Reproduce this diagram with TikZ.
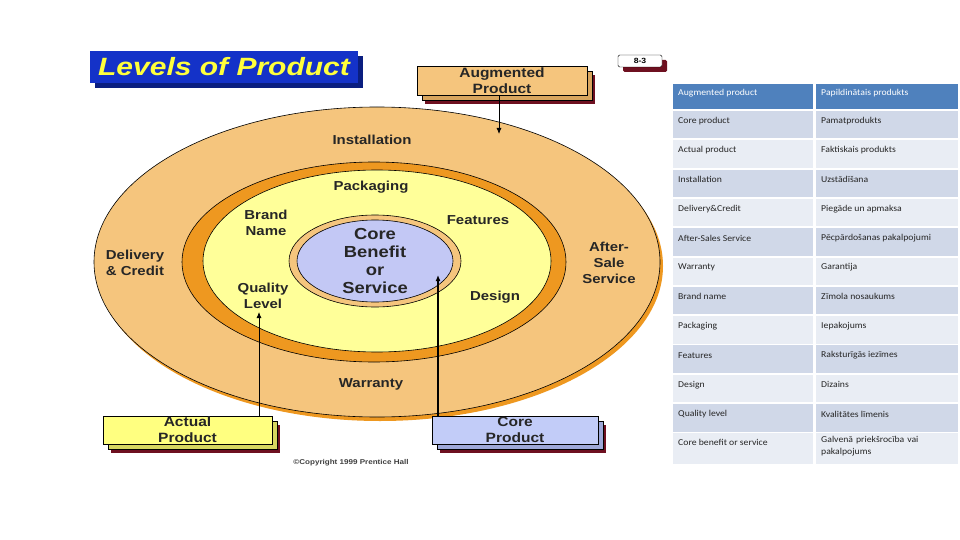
\documentclass[tikz,border=0pt]{standalone}
\usepackage{fontspec}
\usepackage{tikz}
\usetikzlibrary{shadows,arrows.meta}
\setmainfont{Liberation Sans}
\newfontfamily\labfont[FakeStretch=1.15]{Liberation Sans}
\newfontfamily\ttlfont[FakeStretch=1.2]{Liberation Sans}
\newfontfamily\tabfont[FakeStretch=1.08]{Carlito}

\definecolor{peach}{HTML}{F5C57D}
\definecolor{ringorange}{HTML}{EE9820}
\definecolor{paleyellow}{HTML}{FFFF99}
\definecolor{coreblue}{HTML}{C3C8F5}
\definecolor{actualfill}{HTML}{FFFF80}
\definecolor{actualbevel}{HTML}{D6D660}
\definecolor{corefill}{HTML}{C2CCF8}
\definecolor{corebevel}{HTML}{9EA8D8}
\definecolor{augbevel}{HTML}{D8A55E}
\definecolor{maroon}{HTML}{6E1020}
\definecolor{titleblue}{HTML}{1432C8}
\definecolor{titleshade}{HTML}{0A1E80}
\definecolor{titletext}{HTML}{FFFF3C}
\definecolor{headblue}{HTML}{4F81BD}
\definecolor{rowdark}{HTML}{D0D8E8}
\definecolor{rowlight}{HTML}{E9EDF4}

\tikzset{
  lab/.style={font=\labfont\bfseries\fontsize{13}{16}\selectfont, text=black!85, align=center, inner sep=0},
  pbox/.style={draw=black, line width=0.6pt, inner sep=0, align=center,
    font=\labfont\bfseries\fontsize{13.5}{16}\selectfont, text=black!85,
    drop shadow={shadow xshift=8pt, shadow yshift=-9pt, fill=maroon, opacity=1},
    copy shadow={shadow xshift=5pt, shadow yshift=-5pt, fill=#1, draw=black}},
  arr/.style={-{Latex[length=6pt,width=5pt]}, line width=0.8pt},
  cell/.style={anchor=north west, minimum height=27.5, inner sep=0, outer sep=0},
  celltext/.style={anchor=west, inner sep=0, font=\tabfont\fontsize{9}{12}\selectfont, text=black!85},
}

\begin{document}
\begin{tikzpicture}[x=1pt, y=-1pt]
\useasboundingbox (0,0) rectangle (960,540);
\fill[white] (0,0) rectangle (960,540);

% title and section tag
\node[fill=titleblue, minimum width=268, minimum height=32, inner sep=0,
  font=\ttlfont\bfseries\itshape\fontsize{25}{28}\selectfont, text=titletext,
  drop shadow={shadow xshift=5pt, shadow yshift=-5pt, fill=titleshade, opacity=1}] (title) at (224,67) {Levels of Product};
\node[draw=black, fill=white, rounded corners=1.5pt, minimum width=44, minimum height=12, inner sep=0,
  font=\labfont\bfseries\fontsize{7.5}{8}\selectfont,
  drop shadow={shadow xshift=5pt, shadow yshift=-5pt, fill=maroon, opacity=1}] (sec) at (640,61) {8-3};

% levels
\fill[ringorange] (380,266) ellipse [x radius=283, y radius=155];
\draw[fill=peach, line width=0.6pt] (377,262) ellipse [x radius=283, y radius=155];
\draw[fill=ringorange, line width=0.6pt] (374,262) ellipse [x radius=192, y radius=100];
\draw[fill=paleyellow, line width=0.6pt] (377,261) ellipse [x radius=174, y radius=91];
\draw[fill=peach, line width=0.6pt] (375,261) ellipse [x radius=86, y radius=46];
\draw[fill=coreblue, line width=0.6pt] (375,261) ellipse [x radius=78, y radius=41];

\node[lab] (installation) at (372,140) {Installation};
\node[lab] (packaging) at (371,187) {Packaging};
\node[lab] (brand) at (266,223) {Brand\\Name};
\node[lab] (features) at (478,220) {Features};
\node[lab, font=\labfont\bfseries\fontsize{16}{18}\selectfont] (coretext) at (375,261) {Core\\Benefit\\or\\Service};
\node[lab] (delivery) at (135,263) {Delivery\\\& Credit};
\node[lab] (quality) at (263,296) {Quality\\Level};
\node[lab] (design) at (495,297) {Design};
\node[lab] (aftersale) at (609,263) {After-\\Sale\\Service};
\node[lab] (warranty) at (371,384) {Warranty};

% product boxes
\node[pbox=augbevel, fill=peach, minimum width=170, minimum height=29] (augmented) at (502,80.5) {Augmented\\Product};
\node[pbox=actualbevel, fill=actualfill, minimum width=169, minimum height=28] (actual) at (187.5,430) {Actual\\Product};
\node[pbox=corebevel, fill=corefill, minimum width=166, minimum height=28] (core) at (515,430) {Core\\Product};

\coordinate (augtip) at (499,134);
\coordinate (qualtip) at (259,312);
\coordinate (coretip) at (438,275);
\draw[arr] (augmented.south -| augtip) -- (augtip);
\draw[arr] (actual.north -| qualtip) -- (qualtip);
\draw[arr, line width=1.5pt] (core.north -| coretip) -- (coretip);

\node[font=\labfont\bfseries\fontsize{7}{8}\selectfont, text=black!75] (copy) at (351,463) {\textcopyright Copyright 1999 Prentice Hall};

% glossary table
\node[cell, fill=headblue, minimum width=140, minimum height=25] (Lh) at (673,84) {};
\node[cell, fill=headblue, minimum width=142, minimum height=25] (Rh) at (816,84) {};
\node[celltext, text=white] at ([xshift=5pt, yshift=-9pt]Lh.north west) {Augmented product};
\node[celltext, text=white] at ([xshift=5pt, yshift=-9pt]Rh.north west) {Papildinātais produkts};
\foreach \r/\c/\a/\b in {1/rowdark/Core product/Pamatprodukts,
  2/rowlight/Actual product/Faktiskais produkts,
  3/rowdark/Installation/Uzstādīšana,
  4/rowlight/Delivery\&Credit/Piegāde un apmaksa,
  5/rowdark/After-Sales Service/Pēcpārdošanas pakalpojumi,
  6/rowlight/Warranty/Garantija,
  7/rowdark/Brand name/Zīmola nosaukums,
  8/rowlight/Packaging/Iepakojums,
  9/rowdark/Features/Raksturīgās iezīmes,
  10/rowlight/Design/Dizains,
  11/rowdark/Quality level/Kvalitātes līmenis}{
  \pgfmathsetmacro\rowtop{111+29.3*(\r-1)}
  \node[cell, fill=\c, minimum width=140] (L\r) at (673,\rowtop) {};
  \node[cell, fill=\c, minimum width=142] (R\r) at (816,\rowtop) {};
  \node[celltext] at ([xshift=5pt, yshift=-10pt]L\r.north west) {\a};
  \node[celltext] at ([xshift=5pt, yshift=-10pt]R\r.north west) {\b};
}
\node[cell, fill=rowlight, minimum width=140, minimum height=31] (L12) at (673,433.3) {};
\node[cell, fill=rowlight, minimum width=142, minimum height=31] (R12) at (816,433.3) {};
\node[celltext] at ([xshift=5pt, yshift=-9pt]L12.north west) {Core benefit or service};
\node[celltext, anchor=north west, align=left, text width=135] at ([xshift=5pt, yshift=-3pt]R12.north west) {Galvenā priekšrocība vai\\pakalpojums};
\end{tikzpicture}
\end{document}
